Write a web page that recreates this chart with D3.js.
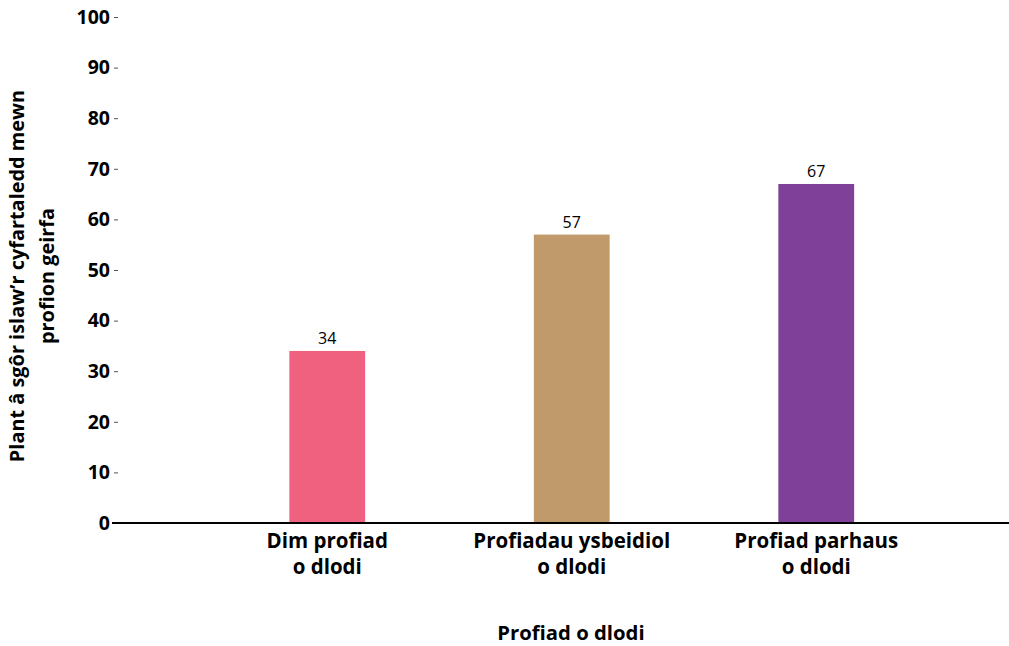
<!DOCTYPE html>
<html><head><meta charset="utf-8">
<script src="https://cdn.jsdelivr.net/npm/d3@7"></script>
<style>body{margin:0;background:#fff}svg{display:block}text{font-family:"Open Sans",Lato,sans-serif}</style>
</head><body>
<svg id="c" width="1009" height="646"></svg>
<script>
const categories = [["Dim profiad","o dlodi"],["Profiadau ysbeidiol","o dlodi"],["Profiad parhaus","o dlodi"]];
const values = [34, 57, 67];
const colors = ["#F0607F", "#C19A6B", "#7E4099"];
const yTicks = [0,10,20,30,40,50,60,70,80,90,100];
const yTitle = ["Plant â sgôr islaw’r cyfartaledd mewn","profion geirfa"];
const xTitle = "Profiad o dlodi";

const svg = d3.select("#c");
const y = d3.scaleLinear().domain([0,100]).range([523,17]);
const x = d3.scaleBand().domain(d3.range(categories.length)).range([205,938.5]).paddingInner(0.69).paddingOuter(0.345);

// y axis
const ya = svg.append("g").attr("transform","translate(118,0)")
  .call(d3.axisLeft(y).tickValues(yTicks).tickSize(4).tickPadding(4));
ya.select(".domain").remove();
ya.selectAll(".tick line").attr("stroke","#555");
ya.selectAll(".tick text").attr("font-size",19.5).attr("font-weight","bold").attr("fill","#000").attr("font-family","Open Sans");

// bars
svg.selectAll("rect.bar").data(values).enter().append("rect")
  .attr("x",(d,i)=>x(i)).attr("width",x.bandwidth())
  .attr("y",d=>y(d)).attr("height",d=>y(0)-y(d))
  .attr("fill",(d,i)=>colors[i]);

// value labels
svg.selectAll("text.val").data(values).enter().append("text")
  .attr("x",(d,i)=>x(i)+x.bandwidth()/2).attr("y",d=>y(d)-7)
  .attr("text-anchor","middle").attr("font-size",16).attr("fill","#000").text(d=>d);

// baseline
svg.append("line").attr("x1",112).attr("x2",1009).attr("y1",y(0)).attr("y2",y(0)).attr("stroke","#000").attr("stroke-width",2);

// category labels
categories.forEach((c,i)=>{
  const t = svg.append("text").attr("text-anchor","middle").attr("font-size",20.5).attr("font-weight","bold").attr("fill","#000");
  c.forEach((line,j)=>{
    t.append("tspan").attr("x",x(i)+x.bandwidth()/2).attr("y",548+j*26).text(line);
  });
});

// x title
svg.append("text").attr("x",571).attr("y",640).attr("text-anchor","middle").attr("font-size",20.3).attr("font-weight","bold").text(xTitle);

// y title
const yt = svg.append("text").attr("transform","translate(0,276) rotate(-90)").attr("text-anchor","middle").attr("font-size",19.9).attr("font-weight","bold");
yTitle.forEach((line,j)=>{
  yt.append("tspan").attr("x",0).attr("y",24+j*30).text(line);
});
</script>
</body></html>
